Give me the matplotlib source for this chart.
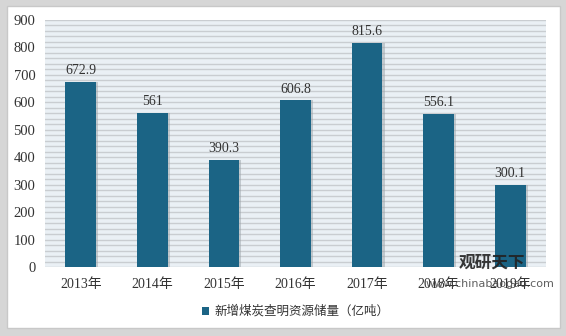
import matplotlib.pyplot as plt
from matplotlib.patches import Rectangle
import numpy as np

years = ['2013年', '2014年', '2015年', '2016年', '2017年', '2018年', '2019年']
reserves = [672.9, 561, 390.3, 606.8, 815.6, 556.1, 300.1]
labels = ['672.9', '561', '390.3', '606.8', '815.6', '556.1', '300.1']
series_name = '新增煤炭查明资源储量（亿吨）'

plt.rcParams['font.family'] = ['Liberation Serif', 'Noto Sans CJK SC', 'DejaVu Sans']

fig = plt.figure(figsize=(5.66, 3.36), dpi=100, facecolor='#d6d6d6')
# white card with soft border
fig.patches.append(Rectangle((7 / 566, 1 - 328 / 336), 553 / 566, 322 / 336,
                             transform=fig.transFigure, facecolor='white',
                             edgecolor='#c8c8c8', linewidth=1, zorder=-5))

ax = fig.add_axes([45 / 566, 1 - 267 / 336, 501 / 566, 247 / 336])
ax.set_facecolor('#eaf0f5')
x = np.arange(len(years))

# shadow then bar
ax.bar(x + 0.03, reserves, width=0.43, color='#9aa3a9', alpha=0.5, zorder=2)
bars = ax.bar(x, reserves, width=0.43, color='#1b6485', zorder=3, label=series_name)

for xi, v, t in zip(x, reserves, labels):
    ax.text(xi, v + 18, t, ha='center', va='bottom', fontsize=10, color='#333333', zorder=4)

ax.set_ylim(0, 900)
ax.set_xlim(-0.5, len(years) - 0.5)
ax.set_yticks(range(0, 901, 100))
ax.set_yticks(range(0, 901, 20), minor=True)
ax.grid(axis='y', which='both', color='#c9cdd1', linewidth=1, zorder=1)
ax.set_axisbelow(True)
ax.tick_params(axis='y', which='both', length=0, labelsize=10.5, labelcolor='#333333', pad=7)
ax.set_xticks(x)
ax.set_xticklabels(years)
ax.tick_params(axis='x', length=0, labelsize=10, labelcolor='#333333', pad=8)
for s in ax.spines.values():
    s.set_visible(False)

ax.legend(loc='upper center', bbox_to_anchor=(0.5, -0.11), frameon=False,
          fontsize=9, handlelength=0.6, handleheight=0.6, handletextpad=0.4,
          labelcolor='#333333')

# watermark
fig.text(0.87, 0.205, '观研天下', fontsize=12, fontweight='bold', color='#222222',
         ha='center', family=['Noto Sans CJK SC'], alpha=0.9)
fig.text(0.865, 0.145, 'www.chinabaogao.com', fontsize=8, color='#444444',
         ha='center', family=['DejaVu Sans'], alpha=0.85)

fig.savefig('out.png', dpi=100, facecolor=fig.get_facecolor())
